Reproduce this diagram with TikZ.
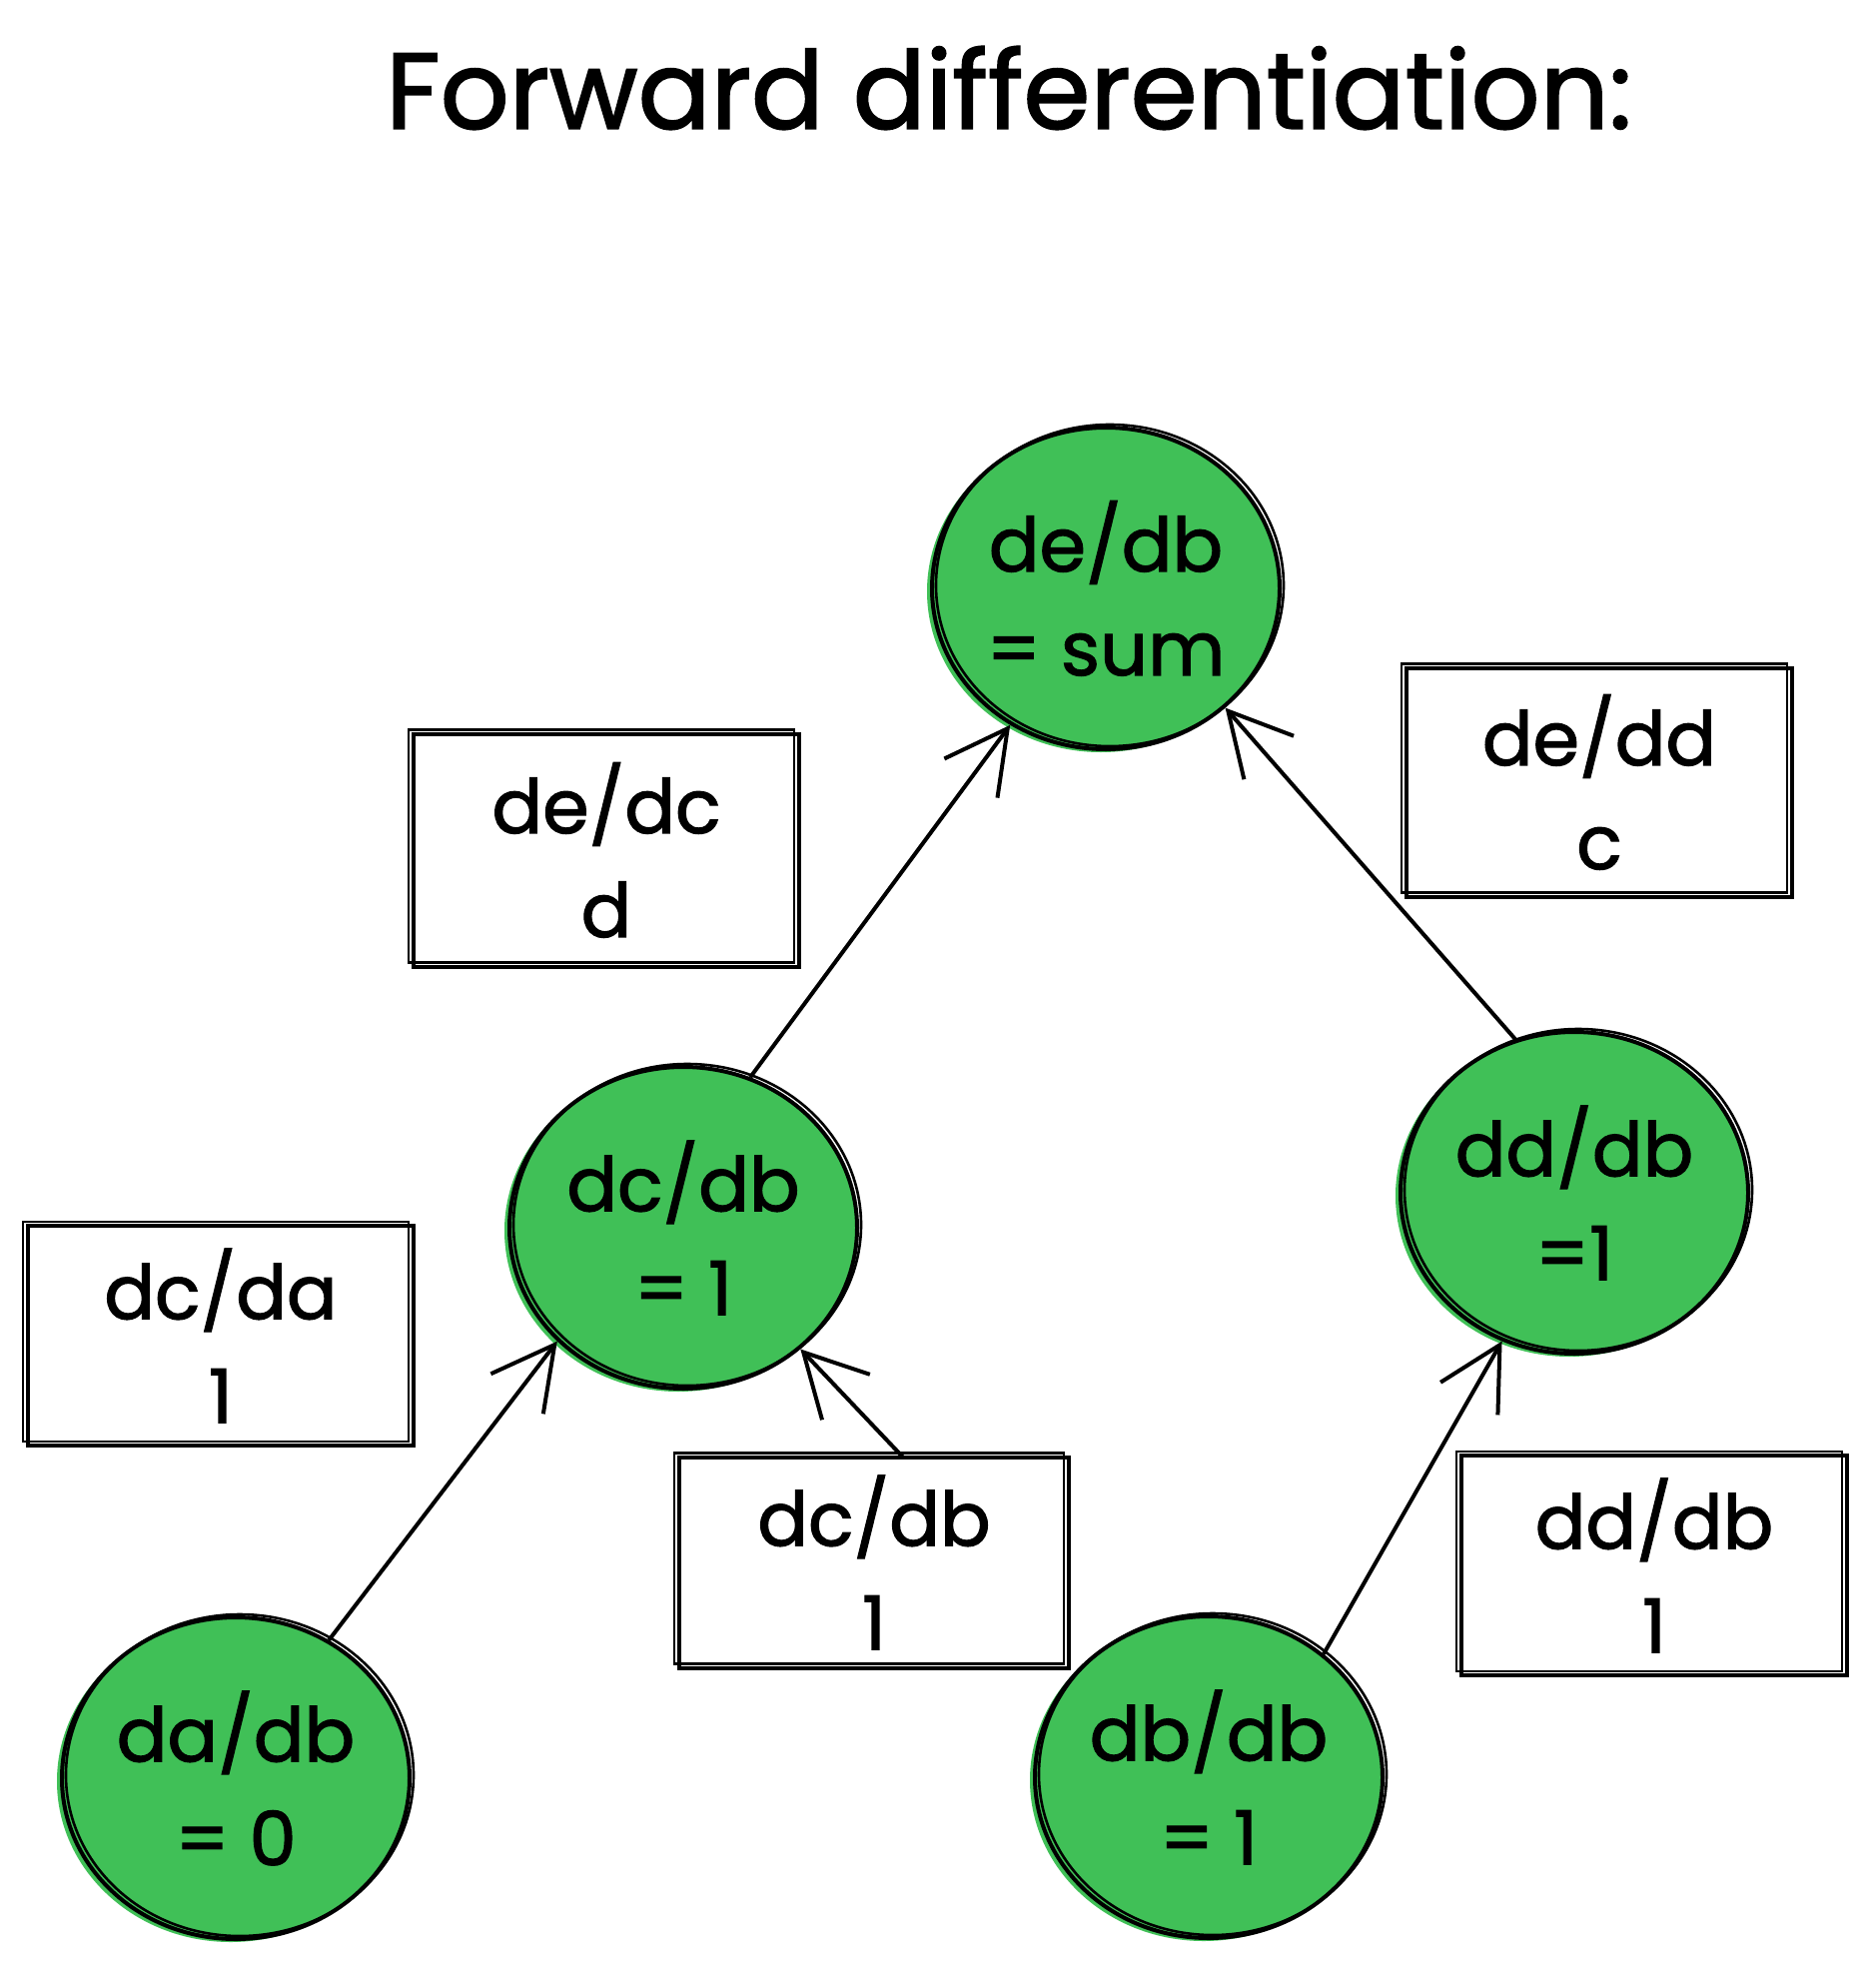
\documentclass[tikz,border=0pt]{standalone}
\usepackage{fontspec}
\newfontfamily\handfont[FakeBold=1.6]{Poppins}
\usetikzlibrary{shapes.geometric,arrows.meta}
\definecolor{exgreen}{HTML}{40C057}
\newcommand{\valfont}{\handfont\fontsize{75}{104}\selectfont}
\newcommand{\titlefont}{\handfont\fontsize{108}{120}\selectfont}

\begin{document}
\begin{tikzpicture}[x=1pt,y=-1pt,line width=4pt,
    value/.style={ellipse,draw,fill=exgreen,inner sep=0pt,minimum width=348pt,minimum height=322pt,
      align=center,font=\valfont,
      preaction={fill=exgreen,transform canvas={shift={(-5pt,-3pt)}}},
      postaction={draw,line width=2.6pt,transform canvas={shift={(4pt,3pt)}}}},
    weight/.style={rectangle,draw,fill=white,inner sep=0pt,minimum width=386pt,minimum height=220pt,
      align=center,font=\valfont,
      postaction={draw,line width=2.6pt,transform canvas={shift={(-5pt,4pt)}}}},
    flow/.style={-{Straight Barb[length=62pt,width=66pt]}}]
  \useasboundingbox (0,0) rectangle (1877,1969);
  \node[font=\titlefont] (title) at (1010,88) {Forward differentiation:};

  \node[value] (v_e) at (1107,589)  {de/db\\= sum};
  \node[value] (v_c) at (684,1229)  {dc/db\\= 1};
  \node[value] (v_d) at (1576,1194) {dd/db\\=1};
  \node[value] (v_a) at (236,1780)  {da/db\\= 0};
  \node[value] (v_b) at (1210,1779) {db/db\\= 1};

  \path[flow]
    (v_a.56)  edge (v_c.222)
    (v_b.134) edge [shorten <=40pt] (v_c.314)
    (v_b.47)  edge (v_d.244)
    (v_c.66)  edge (v_e.235)
    (v_d.111) edge (v_e.315);

  \node[weight,minimum height=233pt] (w_ec) at (607,851)  {de/dc\\d};
  \node[weight,minimum height=229pt] (w_ed) at (1601,783) {de/dd\\c};
  \node[weight] (w_ca) at (221,1337)  {dc/da\\1};
  \node[weight,minimum width=390pt,minimum height=211pt] (w_cb) at (875,1564) {dc/db\\1};
  \node[weight] (w_db) at (1656,1567) {dd/db\\1};
\end{tikzpicture}
\end{document}
